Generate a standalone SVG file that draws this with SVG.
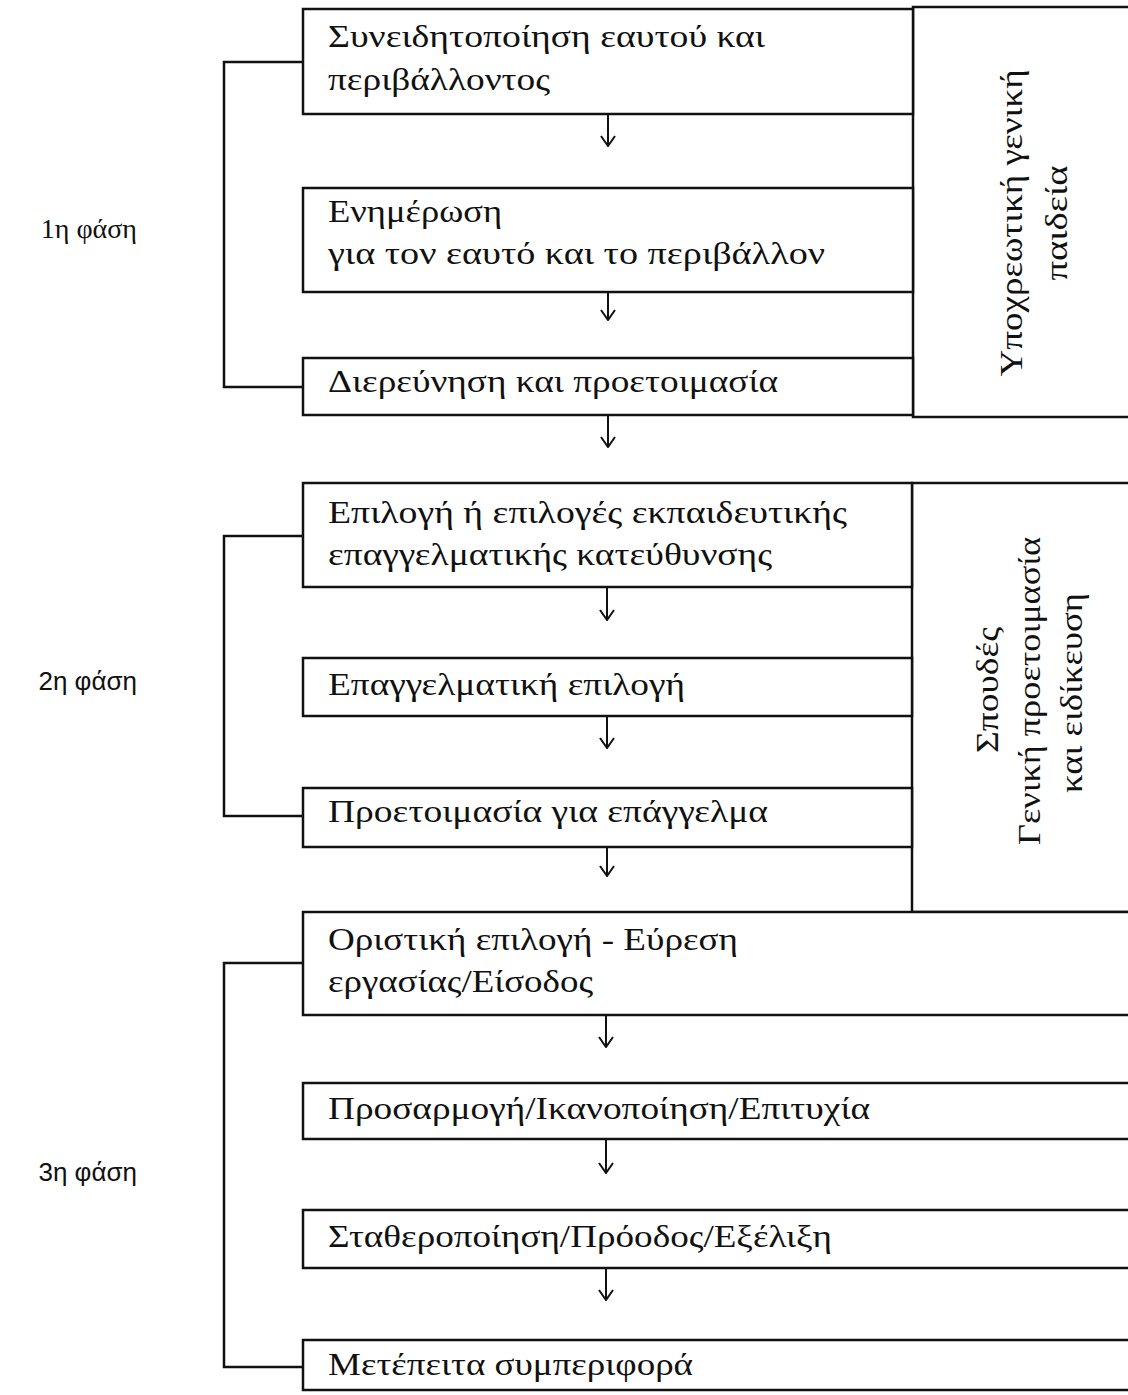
<svg xmlns="http://www.w3.org/2000/svg" width="1128" height="1395" viewBox="0 0 1128 1395">
<style>
.box{fill:#fff;stroke:#111;stroke-width:2.5}
.t{font-family:"Liberation Serif","DejaVu Serif",serif;font-size:32px;fill:#111}
.lab{font-family:"Liberation Sans","DejaVu Sans",sans-serif;font-size:26px;fill:#111}
.labs{font-family:"Liberation Serif","DejaVu Serif",serif;font-size:28px;fill:#111}
.c{fill:none;stroke:#111;stroke-width:2.5}
.a{fill:none;stroke:#111;stroke-width:2}
</style>
<defs>
<marker id="ah" viewBox="0 0 12 16" refX="11" refY="8" markerWidth="12" markerHeight="16" markerUnits="userSpaceOnUse" orient="auto">
<path d="M1,1 L11,8 L1,15" fill="none" stroke="#111" stroke-width="2"/>
</marker>
</defs>
<rect width="1128" height="1395" fill="#fff"/>

<g id="col1">
<rect class="box" x="913" y="7" width="230" height="410"/>
<text class="t" transform="translate(1022,223) rotate(-90)" text-anchor="middle" textLength="307" lengthAdjust="spacingAndGlyphs">Υποχρεωτική γενική</text>
<text class="t" transform="translate(1067,223) rotate(-90)" text-anchor="middle" textLength="115" lengthAdjust="spacingAndGlyphs">παιδεία</text>
</g>
<g id="col2">
<rect class="box" x="912" y="483" width="230" height="429"/>
<text class="t" transform="translate(998,690) rotate(-90)" text-anchor="middle" textLength="126" lengthAdjust="spacingAndGlyphs">Σπουδές</text>
<text class="t" transform="translate(1040,691) rotate(-90)" text-anchor="middle" textLength="308" lengthAdjust="spacingAndGlyphs">Γενική προετοιμασία</text>
<text class="t" transform="translate(1082,693) rotate(-90)" text-anchor="middle" textLength="200" lengthAdjust="spacingAndGlyphs">και ειδίκευση</text>
</g>

<g id="n1"><rect class="box" x="303" y="9" width="610" height="105"/>
<text class="t" x="328" y="47" textLength="437" lengthAdjust="spacingAndGlyphs">Συνειδητοποίηση εαυτού και</text>
<text class="t" x="328" y="90" textLength="222" lengthAdjust="spacingAndGlyphs">περιβάλλοντος</text></g>
<g id="n2"><rect class="box" x="303" y="188" width="610" height="104"/>
<text class="t" x="328" y="222" textLength="174" lengthAdjust="spacingAndGlyphs">Ενημέρωση</text>
<text class="t" x="328" y="264" textLength="497" lengthAdjust="spacingAndGlyphs">για τον εαυτό και το περιβάλλον</text></g>
<g id="n3"><rect class="box" x="303" y="358" width="610" height="57"/>
<text class="t" x="328" y="392" textLength="450" lengthAdjust="spacingAndGlyphs">Διερεύνηση και προετοιμασία</text></g>

<g id="n4"><rect class="box" x="303" y="483" width="609" height="104"/>
<text class="t" x="328" y="523" textLength="519" lengthAdjust="spacingAndGlyphs">Επιλογή ή επιλογές εκπαιδευτικής</text>
<text class="t" x="328" y="565" textLength="444" lengthAdjust="spacingAndGlyphs">επαγγελματικής κατεύθυνσης</text></g>
<g id="n5"><rect class="box" x="303" y="658" width="609" height="58"/>
<text class="t" x="328" y="695" textLength="357" lengthAdjust="spacingAndGlyphs">Επαγγελματική επιλογή</text></g>
<g id="n6"><rect class="box" x="303" y="788" width="609" height="59"/>
<text class="t" x="328" y="822" textLength="440" lengthAdjust="spacingAndGlyphs">Προετοιμασία για επάγγελμα</text></g>

<g id="n7"><rect class="box" x="303" y="912" width="840" height="103"/>
<text class="t" x="328" y="950" textLength="410" lengthAdjust="spacingAndGlyphs">Οριστική επιλογή - Εύρεση</text>
<text class="t" x="328" y="992" textLength="265" lengthAdjust="spacingAndGlyphs">εργασίας/Είσοδος</text></g>
<g id="n8"><rect class="box" x="303" y="1083" width="840" height="56"/>
<text class="t" x="328" y="1119" textLength="542" lengthAdjust="spacingAndGlyphs">Προσαρμογή/Ικανοποίηση/Επιτυχία</text></g>
<g id="n9"><rect class="box" x="303" y="1210" width="840" height="58"/>
<text class="t" x="328" y="1247" textLength="504" lengthAdjust="spacingAndGlyphs">Σταθεροποίηση/Πρόοδος/Εξέλιξη</text></g>
<g id="n10"><rect class="box" x="303" y="1340" width="840" height="50"/>
<text class="t" x="328" y="1375" textLength="365" lengthAdjust="spacingAndGlyphs">Μετέπειτα συμπεριφορά</text></g>

<g id="phase1"><text class="labs" x="137" y="238" text-anchor="end">1η φάση</text></g>
<g id="phase2"><text class="lab" x="137" y="690" text-anchor="end">2η φάση</text></g>
<g id="phase3"><text class="lab" x="137" y="1181" text-anchor="end">3η φάση</text></g>

<g id="connectors">
<path class="c" d="M303,62 H224 V387 H303"/>
<path class="c" d="M303,536 H224 V816 H303"/>
<path class="c" d="M303,963 H224 V1367 H303"/>
<path class="a" d="M608,114 V146" marker-end="url(#ah)"/>
<path class="a" d="M608,292 V320" marker-end="url(#ah)"/>
<path class="a" d="M608,415 V447" marker-end="url(#ah)"/>
<path class="a" d="M607,587 V620" marker-end="url(#ah)"/>
<path class="a" d="M607,716 V748" marker-end="url(#ah)"/>
<path class="a" d="M607,847 V876" marker-end="url(#ah)"/>
<path class="a" d="M606,1015 V1047" marker-end="url(#ah)"/>
<path class="a" d="M606,1139 V1173" marker-end="url(#ah)"/>
<path class="a" d="M606,1268 V1300" marker-end="url(#ah)"/>
</g>
</svg>
